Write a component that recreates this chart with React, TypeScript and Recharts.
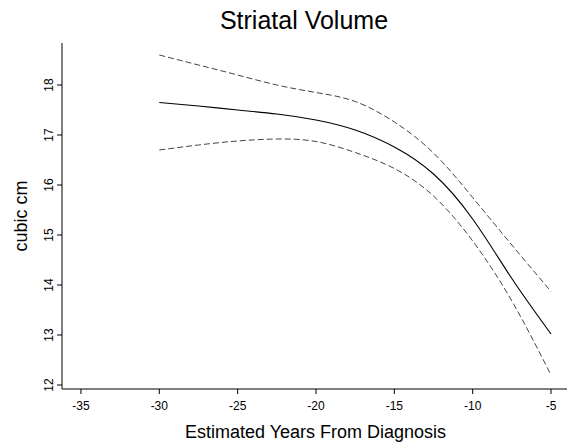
import React from "react";
import { LineChart, Line, XAxis, YAxis, Label } from "recharts";

const years = [-30, -27.5, -25, -22.5, -20, -17.5, -15, -12.5, -10, -7.5, -5];
const meanVol = [17.65, 17.58, 17.5, 17.42, 17.3, 17.1, 16.76, 16.22, 15.32, 14.13, 13.02];
const upperVol = [18.6, 18.4, 18.2, 18.0, 17.85, 17.67, 17.26, 16.64, 15.75, 14.8, 13.87];
const lowerVol = [16.7, 16.8, 16.88, 16.92, 16.87, 16.65, 16.33, 15.78, 14.88, 13.68, 12.2];

const xTicks = [-35, -30, -25, -20, -15, -10, -5];
const yTicks = [12, 13, 14, 15, 16, 17, 18];
const xDomain = [-36.21, -3.98];
const yDomain = [11.92, 18.84];

const rows = years.map((y, i) => ({
  year: y,
  mean: meanVol[i],
  upper: upperVol[i],
  lower: lowerVol[i],
}));

const FONT = "'Liberation Sans', Arial, Helvetica, sans-serif";

const XTick = (props: any) => {
  const { x, y, payload } = props;
  return (
    <text x={x} y={y + 14} textAnchor="middle" fontFamily={FONT} fontSize={12} fill="#000">
      {payload.value}
    </text>
  );
};

const YTick = (props: any) => {
  const { x, y, payload } = props;
  const cx = x - 6;
  return (
    <text
      x={cx}
      y={y}
      transform={`rotate(-90, ${cx}, ${y})`}
      textAnchor="middle"
      dominantBaseline="central"
      fontFamily={FONT}
      fontSize={12}
      fill="#000"
    >
      {payload.value}
    </text>
  );
};

const XTitle = (props: any) => {
  const vb = props.viewBox || { x: 62, y: 389, width: 505, height: 56 };
  return (
    <text
      x={vb.x + vb.width / 2 + 1}
      y={vb.y + 49}
      textAnchor="middle"
      fontFamily={FONT}
      fontSize={18}
      fill="#000"
    >
      Estimated Years From Diagnosis
    </text>
  );
};

const YTitle = (props: any) => {
  const vb = props.viewBox || { x: 0, y: 43, width: 62, height: 346 };
  const cx = 21;
  const cy = vb.y + vb.height / 2;
  return (
    <text
      x={cx}
      y={cy}
      transform={`rotate(-90, ${cx}, ${cy})`}
      textAnchor="middle"
      dominantBaseline="central"
      fontFamily={FONT}
      fontSize={18}
      fill="#000"
    >
      cubic cm
    </text>
  );
};

export default function App() {
  return (
    <div style={{ position: "absolute", left: 0, top: 0, width: 567, height: 445, background: "#fff" }}>
      <div
        style={{
          position: "absolute",
          left: 0,
          width: 608,
          top: 0,
          textAlign: "center",
          fontFamily: FONT,
          fontSize: 25,
          lineHeight: "40px",
          color: "#000",
        }}
      >
        Striatal Volume
      </div>
      <LineChart
        width={567}
        height={445}
        data={rows}
        margin={{ top: 43, right: 0, bottom: 0, left: 0 }}
      >
        <XAxis
          dataKey="year"
          type="number"
          domain={xDomain}
          ticks={xTicks}
          allowDataOverflow
          height={56}
          tick={XTick}
          tickSize={5}
          tickLine={{ stroke: "#000" }}
          axisLine={{ stroke: "#000", strokeWidth: 1 }}
          interval={0}
        >
          <Label content={XTitle} />
        </XAxis>
        <YAxis
          type="number"
          domain={yDomain}
          ticks={yTicks}
          allowDataOverflow
          width={62}
          tick={YTick}
          tickSize={5}
          tickLine={{ stroke: "#000" }}
          axisLine={{ stroke: "#000", strokeWidth: 1 }}
          interval={0}
        >
          <Label content={YTitle} />
        </YAxis>
        <Line
          type="natural"
          dataKey="upper"
          stroke="#444"
          strokeWidth={1}
          strokeDasharray="6 3"
          dot={false}
          isAnimationActive={false}
        />
        <Line
          type="natural"
          dataKey="lower"
          stroke="#444"
          strokeWidth={1}
          strokeDasharray="6 3"
          dot={false}
          isAnimationActive={false}
        />
        <Line
          type="natural"
          dataKey="mean"
          stroke="#000"
          strokeWidth={1.1}
          dot={false}
          isAnimationActive={false}
        />
      </LineChart>
    </div>
  );
}
